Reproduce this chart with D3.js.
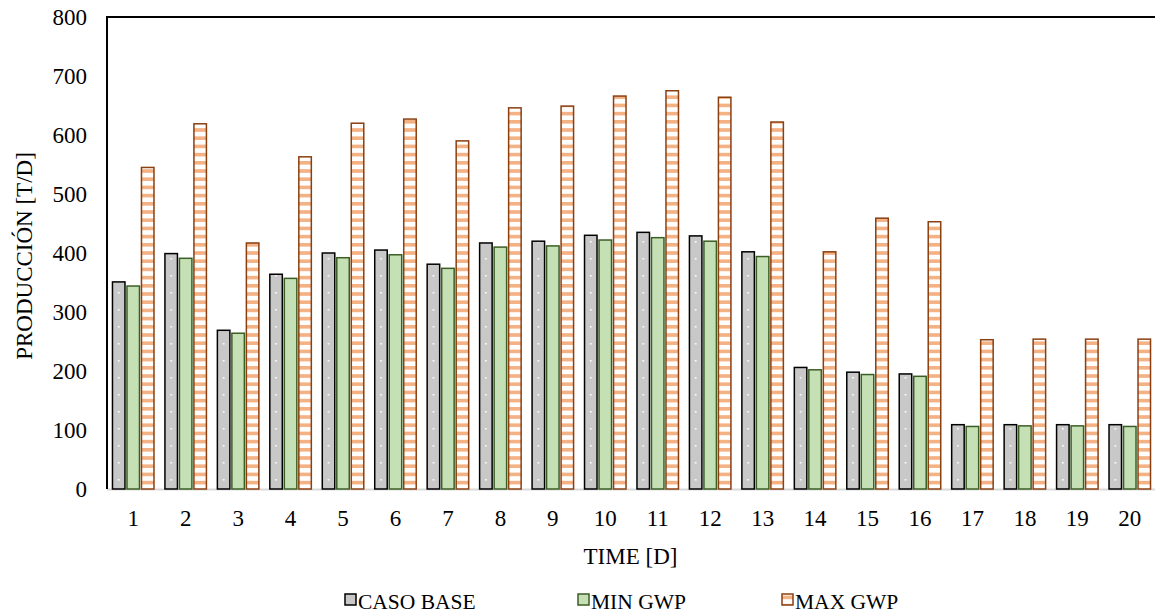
<!DOCTYPE html>
<html><head><meta charset="utf-8">
<script src="https://cdn.jsdelivr.net/npm/d3@7"></script>
<style>body{margin:0;background:#fff}svg{display:block}svg text{font-family:'Liberation Serif','Times New Roman',serif !important;fill:#000}</style>
</head><body><svg id="c" width="1155" height="615"></svg>
<script>
const categories = ["1","2","3","4","5","6","7","8","9","10","11","12","13","14","15","16","17","18","19","20"];
const casoBase = [351,399,269,364,400,405,381,417,420,430,435,429,402,206,198,195,109,109,109,109];
const minGWP  = [344,391,264,357,392,397,374,410,412,422,426,420,394,202,194,191,106,107,107,106];
const maxGWP  = [545,619,417,563,620,627,590,646,649,666,675,664,622,402,459,453,253,254,254,254];
const yTicks = [0,100,200,300,400,500,600,700,800];
const seriesNames = ["CASO BASE","MIN GWP","MAX GWP"];

const FONT = "'Liberation Serif','Times New Roman',serif";
const svg = d3.select("#c");
const L=107, R=1156, T=17, B=489;
const x = d3.scaleBand().domain(categories).range([L,R]).paddingInner(0).paddingOuter(0);
const y = d3.scaleLinear().domain([0,800]).range([B,T]);
const bw = 12.5, gap = 2;
const offs = [x.bandwidth()/2 - bw*1.5 - gap, x.bandwidth()/2 - bw/2, x.bandwidth()/2 + bw/2 + gap];

const defs = svg.append("defs");
const step = x.step();
const pg = defs.append("pattern").attr("id","pg").attr("patternUnits","userSpaceOnUse")
  .attr("x", L).attr("y", B).attr("width", step).attr("height", 17);
pg.append("rect").attr("width",step).attr("height",17).attr("fill","#c8c8c8");
pg.append("rect").attr("x", offs[0]+bw/2-0.8).attr("y", 7).attr("width",1.6).attr("height",1.6).attr("fill","#fff");
const per = 8.2;
const po = defs.append("pattern").attr("id","po").attr("patternUnits","userSpaceOnUse")
  .attr("x",0).attr("y",B).attr("width",10).attr("height",per);
po.append("rect").attr("width",10).attr("height",per).attr("fill","#fff");
po.append("rect").attr("y",0).attr("width",10).attr("height",3.6).attr("fill","#f4b183");

const series = [
  {vals: casoBase, fill:"url(#pg)", stroke:"#000"},
  {vals: minGWP, fill:"#c5e0b4", stroke:"#3b5e25"},
  {vals: maxGWP, fill:"url(#po)", stroke:"#8a3f10"}
];

svg.append("line").attr("x1",L).attr("x2",R).attr("y1",B+0.5).attr("y2",B+0.5).attr("stroke","#d9d9d9").attr("stroke-width",2);

series.forEach((s,i)=>{
  svg.append("g").selectAll("rect").data(s.vals).join("rect")
    .attr("x",(d,j)=>x(categories[j])+offs[i])
    .attr("y",d=>y(d))
    .attr("width",bw)
    .attr("height",d=>B-y(d))
    .attr("fill",s.fill).attr("stroke",s.stroke).attr("stroke-width",1.5);
});

svg.append("line").attr("x1",L).attr("x2",L).attr("y1",T).attr("y2",B).attr("stroke","#000").attr("stroke-width",2);
svg.append("line").attr("x1",L-1).attr("x2",R).attr("y1",T).attr("y2",T).attr("stroke","#000").attr("stroke-width",2);

const ya = svg.append("g").attr("transform",`translate(${L},0)`)
  .call(d3.axisLeft(y).tickValues(yTicks).tickSize(0).tickPadding(20));
ya.select(".domain").remove();
ya.attr("font-family",FONT).attr("font-size",23);
ya.selectAll("text").attr("font-size",23).attr("font-family",FONT);

const xa = svg.append("g").attr("transform",`translate(0,${B})`)
  .call(d3.axisBottom(x).tickSize(0).tickPadding(21));
xa.select(".domain").remove();
xa.attr("font-family",FONT).attr("font-size",23);
xa.selectAll("text").attr("font-size",23).attr("font-family",FONT);

svg.append("text").attr("x",(L+R)/2-1).attr("y",564).attr("text-anchor","middle").attr("font-size",23).attr("font-family",FONT).text("TIME [D]");
svg.append("text").attr("transform","translate(32,256) rotate(-90)").attr("text-anchor","middle").attr("font-size",23).attr("font-family",FONT).text("PRODUCCIÓN [T/D]");

const legX = [345, 578, 782];
const leg = svg.append("g");
seriesNames.forEach((n,i)=>{
  const g = leg.append("g").attr("transform",`translate(${legX[i]},0)`);
  g.append("rect").attr("x",0).attr("y",594).attr("width",11).attr("height",11)
    .attr("fill", i===0?"#c8c8c8":i===1?"#c5e0b4":"url(#po)").attr("stroke",series[i].stroke).attr("stroke-width",1.5);
  g.append("text").attr("x",13).attr("y",609).attr("font-size",21.5).attr("font-family",FONT).text(n);
});
</script></body></html>
